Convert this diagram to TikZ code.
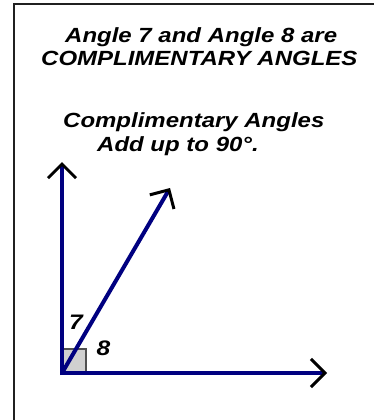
\documentclass[tikz,border=0pt]{standalone}
\usepackage{fontspec}
\setmainfont{Liberation Sans}[FakeStretch=1.17]
\usepackage{xcolor}
\usepackage{tikz}
\usetikzlibrary{arrows.meta}
\definecolor{raynavy}{HTML}{000080}
\definecolor{boxgray}{HTML}{D0D0D0}
\definecolor{boxedge}{HTML}{505050}
\definecolor{frameink}{HTML}{202020}
\tikzset{
  ray/.style      = {line width=4pt, draw=raynavy,
                     -{Straight Barb[length=14pt, width=28pt, line width=3pt, color=black]}},
  rightbox/.style = {draw=boxedge, line width=2pt, fill=boxgray},
  frameline/.style= {draw=frameink, line width=1.6pt},
  caption/.style  = {anchor=base west, inner sep=0pt,
                     font=\fontsize{20.5}{24}\selectfont\bfseries\itshape},
  anglenum/.style = {anchor=center, inner sep=0pt,
                     font=\fontsize{21}{24}\selectfont\bfseries\itshape},
}

\begin{document}
\begin{tikzpicture}[x=1pt, y=-1pt]

  \useasboundingbox (0,0) rectangle (374,420);

  % frame, cut by the page on the right and at the bottom
  \draw[frameline] (374,4) -- (14,4) -- (14,420);

  % text
  \node[caption] (title1) at (65,43)  {Angle 7 and Angle 8 are};
  \node[caption] (title2) at (41,66)  {COMPLIMENTARY ANGLES};
  \node[caption] (rule1)  at (63,127) {Complimentary Angles};
  \node[caption] (rule2)  at (97,151) {Add up to 90°.};

  % angle
  \coordinate (O)        at (62,373);
  \coordinate (sqC)      at (86,349);
  \coordinate (upTip)    at (62,162);
  \coordinate (diagTip)  at (170,188);
  \coordinate (rightTip) at (327,373);

  \draw[rightbox] (O) rectangle (sqC);
  \draw[ray] ([yshift=-2pt]O) -- (upTip);
  \draw[ray] ([xshift=-2pt]O) -- (rightTip);
  \draw[ray] (O) -- (diagTip);

  \node[anglenum] (seven) at (76,322)     {7};
  \node[anglenum] (eight) at (103.5,348.5) {8};

\end{tikzpicture}
\end{document}
